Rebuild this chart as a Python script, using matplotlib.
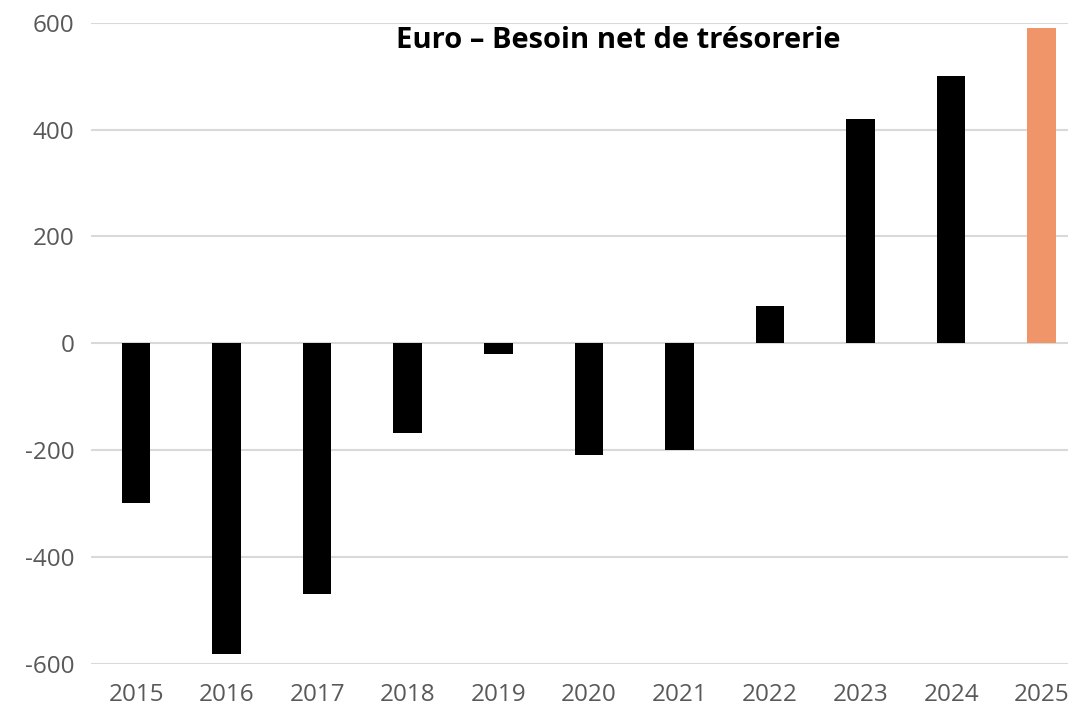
import numpy as np
from matplotlib import pyplot as plt

years = ['2015', '2016', '2017', '2018', '2019', '2020', '2021', '2022', '2023', '2024', '2025']
values = [-300, -581, -470, -169, -20, -210, -200, 69, 420, 500, 590]
colors = ['black'] * 10 + ['#f0956a']
title = 'Euro – Besoin net de trésorerie'

plt.rcParams['font.family'] = ['Open Sans', 'DejaVu Sans']
plt.rcParams['axes.unicode_minus'] = False

W, H = 1068, 710
fig = plt.figure(figsize=(W / 100, H / 100), dpi=100)
# axes placed in pixel terms: left 91, right 1068, top 22.7, bottom 663.7
ax = fig.add_axes([91 / W, 1 - 663.7 / H, (1068 - 91) / W, (663.7 - 22.7) / H])

x = np.arange(len(years))
ax.bar(x, values, width=0.315, color=colors, zorder=3, clip_on=False)

ax.set_xlim(-0.497, 10.29)
ax.set_ylim(-600, 600)
ax.set_yticks([-600, -400, -200, 0, 200, 400, 600])
ax.yaxis.grid(True, color='#d9d9d9', linewidth=1.5, zorder=0)
ax.set_xticks(x)
ax.set_xticklabels(years)

for s in ax.spines.values():
    s.set_visible(False)
ax.tick_params(axis='both', length=0, labelsize=17.5, labelcolor='#595959')
ax.tick_params(axis='y', pad=12)
ax.tick_params(axis='x', pad=14)

fig.text(618 / W, 1 - 40 / H, title, ha='center', va='center',
         fontsize=21, fontweight='bold', color='black')

fig.savefig('out.png', dpi=100)
